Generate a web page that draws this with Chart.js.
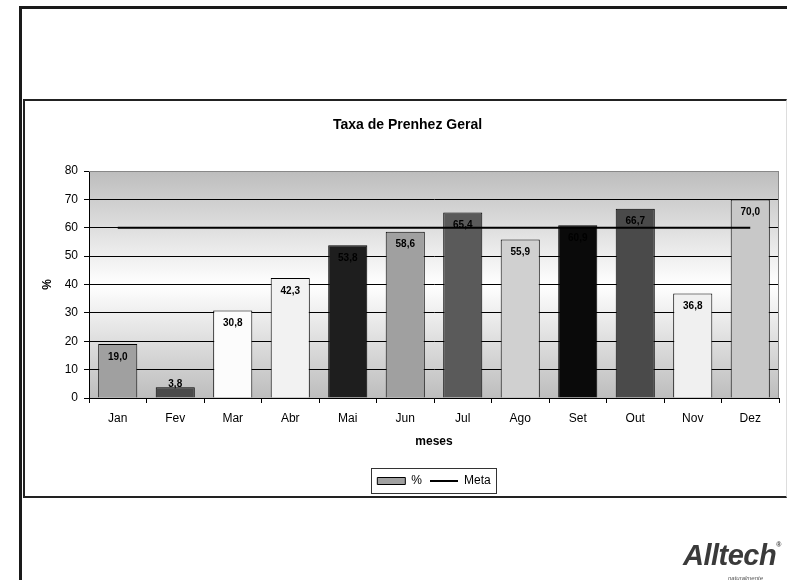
<!DOCTYPE html>
<html lang="pt">
<head>
  <meta charset="UTF-8">
  <title>Taxa de Prenhez Geral</title>
  <script src="https://cdn.jsdelivr.net/npm/chart.js"></script>
  <style>
    body { margin: 0; background: #fff; width: 787px; height: 580px; overflow: hidden; position: relative; font-family: "Liberation Sans", Arial, sans-serif; }
    #moldura { position: absolute; left: 19px; top: 6px; width: 800px; height: 600px; border-left: 3px solid #1a1a1a; border-top: 3px solid #1a1a1a; }
    #quadro { position: absolute; left: 23px; top: 99px; width: 761px; height: 395px; border: 2px solid #222; border-right: 1px solid #ddd; }
    #grafico { position: absolute; left: 0; top: 0; }
    #logo { position: absolute; left: 683px; top: 541px; font-size: 29px; line-height: 1; font-weight: bold; font-style: italic; color: #3a3a3a; letter-spacing: -0.5px; }
    #logo sup { font-size: 7px; font-style: normal; vertical-align: top; }
    #slogan { position: absolute; left: 728px; top: 575px; font-size: 6px; font-style: italic; color: #555; }
  </style>
</head>
<body>
  <div id="moldura"></div>
  <div id="quadro"></div>
  <canvas id="grafico" width="787" height="580"></canvas>
  <div id="logo">Alltech<sup>®</sup></div>
  <div id="slogan">naturalmente</div>

  <script>
    // dados
    const meses = ['Jan', 'Fev', 'Mar', 'Abr', 'Mai', 'Jun', 'Jul', 'Ago', 'Set', 'Out', 'Nov', 'Dez'];
    const taxa = [19.0, 3.8, 30.8, 42.3, 53.8, 58.6, 65.4, 55.9, 60.9, 66.7, 36.8, 70.0];
    const meta = [60, 60, 60, 60, 60, 60, 60, 60, 60, 60, 60, 60];
    const coresBarras = ['#a0a0a0', '#4a4a4a', '#fcfcfc', '#f2f2f2', '#1e1e1e', '#a0a0a0',
                         '#5a5a5a', '#d0d0d0', '#0a0a0a', '#4a4a4a', '#f0f0f0', '#c8c8c8'];
    const ticksY = [0, 10, 20, 30, 40, 50, 60, 70, 80];

    Chart.defaults.font.family = '"Liberation Sans", Arial, sans-serif';
    Chart.defaults.font.size = 12;
    Chart.defaults.color = '#000';

    // fundo degradê da área do gráfico
    const fundo = {
      id: 'fundo',
      beforeDraw(chart) {
        const a = chart.chartArea, ctx = chart.ctx;
        const g = ctx.createLinearGradient(0, a.top, 0, a.bottom);
        g.addColorStop(0, '#bdbdbd');
        g.addColorStop(0.5, '#ffffff');
        g.addColorStop(1, '#bdbdbd');
        ctx.save();
        ctx.fillStyle = g;
        ctx.fillRect(a.left, a.top, a.right - a.left, a.bottom - a.top);
        ctx.restore();
      },
      afterDraw(chart) {
        const a = chart.chartArea, ctx = chart.ctx;
        ctx.save();
        ctx.strokeStyle = '#888';
        ctx.lineWidth = 1;
        ctx.beginPath();
        ctx.moveTo(a.left, a.top + 0.5);
        ctx.lineTo(a.right - 0.5, a.top + 0.5);
        ctx.lineTo(a.right - 0.5, a.bottom);
        ctx.stroke();

        // moldura da legenda
        const lg = chart.legend;
        const hb = lg.legendHitBoxes;
        const x1 = Math.min(...hb.map(h => h.left)) - 6;
        const x2 = Math.max(...hb.map(h => h.left + h.width)) + 6;
        ctx.strokeStyle = '#333';
        ctx.strokeRect(Math.round(x1) + 0.5, Math.round(lg.top) + 1.5, Math.round(x2 - x1), 25);
        ctx.restore();
      }
    };

    // rótulos dos valores dentro das barras
    const rotulos = {
      id: 'rotulos',
      afterDatasetsDraw(chart) {
        const ctx = chart.ctx;
        const meta0 = chart.getDatasetMeta(0);
        ctx.save();
        ctx.font = 'bold 10px "Liberation Sans", Arial, sans-serif';
        ctx.fillStyle = '#000';
        ctx.textAlign = 'center';
        ctx.textBaseline = 'middle';
        meta0.data.forEach((bar, i) => {
          const y = Math.min(bar.y + 13, bar.base - 13.5);
          ctx.fillText(taxa[i].toFixed(1).replace('.', ','), bar.x, y);
        });
        ctx.restore();
      }
    };

    const ctx = document.getElementById('grafico').getContext('2d');
    const chart = new Chart(ctx, {
      type: 'bar',
      data: {
        labels: meses,
        datasets: [{
          type: 'bar',
          label: '%',
          data: taxa,
          backgroundColor: coresBarras,
          borderColor: '#000',
          borderWidth: 1,
          barPercentage: 0.68,
          categoryPercentage: 1,
          pointStyle: 'rect',
          order: 2
        }, {
          type: 'line',
          label: 'Meta',
          data: meta,
          borderColor: '#000',
          borderWidth: 2,
          pointRadius: 0,
          pointStyle: 'line',
          fill: false,
          order: 1
        }]
      },
      options: {
        responsive: false,
        animation: false,
        events: [],
        layout: { padding: { top: 100, left: 36, right: 8, bottom: 83 } },
        plugins: {
          title: {
            display: true,
            text: 'Taxa de Prenhez Geral',
            color: '#000',
            font: { size: 14, weight: 'bold' },
            padding: { top: 16.6, bottom: 37.6 }
          },
          legend: {
            position: 'bottom',
            fullSize: false,
            labels: {
              color: '#000',
              font: { size: 12 },
              usePointStyle: true,
              pointStyleWidth: 28,
              boxHeight: 7,
              padding: 8,
              sort: (a, b) => a.datasetIndex - b.datasetIndex
            }
          },
          tooltip: { enabled: false }
        },
        scales: {
          x: {
            afterFit(s) { s.height = 69; },
            grid: { display: true, drawOnChartArea: false, offset: true, color: '#000', tickLength: 5 },
            border: { color: '#000', width: 1 },
            ticks: { color: '#000', padding: 8 },
            title: { display: true, text: 'meses', color: '#000', font: { weight: 'bold', size: 12 }, padding: { top: 4, bottom: 17.8 } }
          },
          y: {
            min: 0,
            max: 80,
            afterFit(s) { s.width = 53; },
            afterBuildTicks(s) { s.ticks = ticksY.map(v => ({ value: v })); },
            grid: {
              color: c => (c.tick && c.tick.value === 80 ? '#888' : '#000'),
              tickColor: '#000',
              tickLength: 5
            },
            border: { color: '#000', width: 1 },
            ticks: { color: '#000', padding: 6 },
            title: { display: true, text: '%', color: '#000', font: { weight: 'bold', size: 12 }, padding: { top: 4, bottom: 4 } }
          }
        }
      },
      plugins: [fundo, rotulos]
    });
  </script>
</body>
</html>
